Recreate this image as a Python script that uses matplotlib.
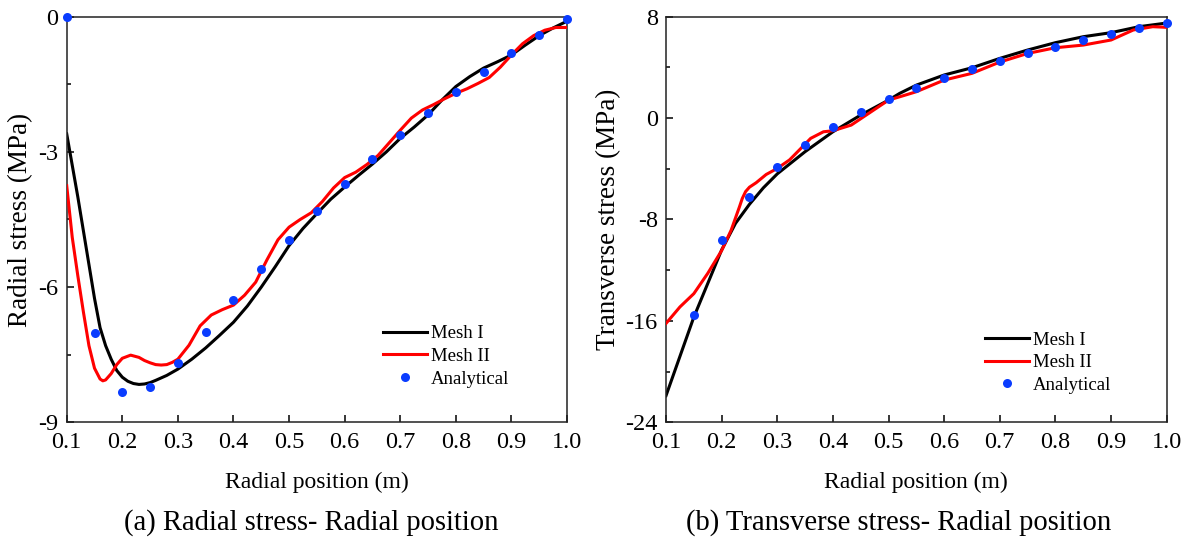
import matplotlib
matplotlib.use("Agg")
from matplotlib import pyplot as plt
from matplotlib.ticker import MultipleLocator

plt.rcParams['font.family'] = ['Liberation Serif', 'DejaVu Serif']
plt.rcParams['axes.unicode_minus'] = False

# (a) radial stress
r_mesh1 = [0.10, 0.11, 0.12, 0.13, 0.14, 0.15, 0.16, 0.17, 0.18, 0.19, 0.20, 0.21,
           0.22, 0.23, 0.24, 0.25, 0.26, 0.28, 0.30, 0.325, 0.35, 0.375, 0.40, 0.425,
           0.45, 0.475, 0.50, 0.525, 0.55, 0.575, 0.60, 0.625, 0.65, 0.675, 0.70,
           0.725, 0.75, 0.775, 0.80, 0.825, 0.85, 0.875, 0.90, 0.925, 0.95, 0.975, 1.00]
sr_mesh1 = [-2.6, -3.3, -4.0, -4.75, -5.5, -6.25, -6.9, -7.3, -7.6, -7.85, -8.0, -8.09,
            -8.14, -8.16, -8.15, -8.12, -8.07, -7.96, -7.82, -7.6, -7.35, -7.07, -6.78, -6.42,
            -6.0, -5.55, -5.08, -4.7, -4.37, -4.05, -3.78, -3.52, -3.27, -3.0, -2.7,
            -2.45, -2.18, -1.85, -1.55, -1.33, -1.14, -1.0, -0.85, -0.63, -0.42, -0.25, -0.1]

r_mesh2 = [0.10, 0.11, 0.12, 0.13, 0.14, 0.15, 0.16, 0.165, 0.17, 0.18, 0.19, 0.20, 0.215,
           0.23, 0.24, 0.25, 0.26, 0.27, 0.28, 0.29, 0.30, 0.32, 0.34, 0.36, 0.38,
           0.40, 0.42, 0.44, 0.46, 0.48, 0.50, 0.52, 0.54, 0.56, 0.58, 0.60, 0.62,
           0.64, 0.66, 0.68, 0.70, 0.72, 0.74, 0.76, 0.78, 0.80, 0.82, 0.84, 0.86,
           0.88, 0.90, 0.92, 0.94, 0.96, 0.98, 1.00]
sr_mesh2 = [-3.75, -4.9, -5.75, -6.55, -7.3, -7.8, -8.04, -8.08, -8.06, -7.92, -7.72, -7.58, -7.51,
            -7.56, -7.63, -7.68, -7.72, -7.73, -7.72, -7.67, -7.6, -7.29, -6.86, -6.62, -6.5,
            -6.4, -6.18, -5.89, -5.4, -4.95, -4.67, -4.5, -4.35, -4.1, -3.8, -3.57, -3.45,
            -3.28, -3.08, -2.8, -2.52, -2.25, -2.07, -1.95, -1.82, -1.7, -1.6, -1.48, -1.35,
            -1.12, -0.85, -0.6, -0.42, -0.3, -0.24, -0.24]

r_anal_a = [0.10, 0.15, 0.20, 0.25, 0.30, 0.35, 0.40, 0.45, 0.50, 0.55, 0.60, 0.65,
            0.70, 0.75, 0.80, 0.85, 0.90, 0.95, 1.00]
sr_anal = [0.0, -7.02, -8.33, -8.22, -7.69, -7.0, -6.29, -5.6, -4.96, -4.31, -3.71, -3.16,
           -2.62, -2.13, -1.67, -1.22, -0.8, -0.4, -0.06]

# (b) transverse stress
t_mesh1 = [0.10, 0.125, 0.15, 0.175, 0.20, 0.225, 0.25, 0.275, 0.30, 0.35, 0.40, 0.45,
           0.50, 0.52, 0.55, 0.60, 0.65, 0.70, 0.75, 0.80, 0.85, 0.90, 0.95, 1.00]
st_mesh1 = [-21.9, -18.8, -15.7, -13.05, -10.4, -8.3, -6.8, -5.5, -4.4, -2.65, -1.08, 0.24,
            1.42, 1.95, 2.6, 3.4, 3.97, 4.71, 5.37, 5.95, 6.42, 6.74, 7.21, 7.5]

t_mesh2 = [0.10, 0.125, 0.15, 0.175, 0.20, 0.217, 0.232, 0.237, 0.243, 0.25, 0.262, 0.28,
           0.30, 0.322, 0.34, 0.36, 0.383, 0.40, 0.433, 0.45, 0.50, 0.52, 0.55, 0.60,
           0.65, 0.70, 0.75, 0.80, 0.85, 0.90, 0.94, 0.975, 1.00]
st_mesh2 = [-16.2, -14.9, -13.85, -12.25, -10.45, -8.85, -7.0, -6.35, -5.8, -5.45, -5.1, -4.45,
            -3.97, -3.3, -2.5, -1.6, -1.08, -1.0, -0.55, -0.05, 1.42, 1.68, 2.08, 3.0,
            3.53, 4.42, 5.1, 5.55, 5.76, 6.16, 6.95, 7.21, 7.16]

t_anal = [0.15, 0.20, 0.25, 0.30, 0.35, 0.40, 0.45, 0.50, 0.55, 0.60, 0.65, 0.70,
          0.75, 0.80, 0.85, 0.90, 0.95, 1.00]
st_anal = [-15.5, -9.62, -6.2, -3.86, -2.1, -0.69, 0.47, 1.49, 2.36, 3.14, 3.86, 4.5,
           5.11, 5.63, 6.16, 6.66, 7.08, 7.53]

xticks = [0.1, 0.2, 0.3, 0.4, 0.5, 0.6, 0.7, 0.8, 0.9, 1.0]

fig = plt.figure(figsize=(11.87, 5.47), dpi=100)
ax1 = fig.add_axes([0.0562, 0.228, 0.4215, 0.7415])
ax2 = fig.add_axes([0.5611, 0.228, 0.4218, 0.7415])

blue = "#0a3cff"
for ax, xm1, ym1, xm2, ym2, xa, ya in [(ax1, r_mesh1, sr_mesh1, r_mesh2, sr_mesh2, r_anal_a, sr_anal),
                                        (ax2, t_mesh1, st_mesh1, t_mesh2, st_mesh2, t_anal, st_anal)]:
    ax.plot(xm1, ym1, color="black", lw=2.2, label="Mesh I", zorder=2)
    ax.plot(xm2, ym2, color="#ff0000", lw=2.2, label="Mesh II", zorder=3)
    ax.plot(xa, ya, "o", color=blue, ms=6.5, mec="none", label="Analytical", zorder=4, clip_on=False)
    ax.set_xlim(0.1, 1.0)
    ax.set_xticks(xticks)
    ax.set_xticklabels(["%.1f" % v for v in xticks])
    ax.tick_params(direction="in", length=5, width=1.1, labelsize=17.5, top=False, right=False)
    ax.tick_params(axis="x", pad=7)
    ax.tick_params(axis="y", pad=6)
    ax.tick_params(which="minor", direction="in", length=3, width=1.1)
    for s in ax.spines.values():
        s.set_linewidth(1.1)
        s.set_color("#222222")
    ax.set_xlabel("Radial position (m)", fontsize=17)
    ax.xaxis.set_label_coords(0.5, -0.122)

ax1.set_ylim(-9, 0)
ax1.set_yticks([0, -3, -6, -9])
ax1.yaxis.set_minor_locator(MultipleLocator(1.5))
ax1.set_ylabel("Radial stress (MPa)", fontsize=19.5)
ax1.yaxis.set_label_coords(-0.068, 0.5)
ax1.legend(loc="upper left", bbox_to_anchor=(0.632, 0.24), frameon=False, fontsize=13.5,
           handlelength=2.35, handletextpad=0.2, labelspacing=0.3, borderpad=0,
           borderaxespad=0)

ax2.set_ylim(-24, 8)
ax2.set_yticks([8, 0, -8, -16, -24])
ax2.yaxis.set_minor_locator(MultipleLocator(4))
ax2.set_ylabel("Transverse stress (MPa)", fontsize=19.5)
ax2.yaxis.set_label_coords(-0.09, 0.5)
ax2.legend(loc="upper left", bbox_to_anchor=(0.637, 0.224), frameon=False, fontsize=13.5,
           handlelength=2.35, handletextpad=0.2, labelspacing=0.3, borderpad=0,
           borderaxespad=0)

fig.text(0.262, 0.032, "(a) Radial stress- Radial position", ha="center", fontsize=20.6)
fig.text(0.757, 0.032, "(b) Transverse stress- Radial position", ha="center", fontsize=20.6)

fig.savefig("out.png", dpi=100)
